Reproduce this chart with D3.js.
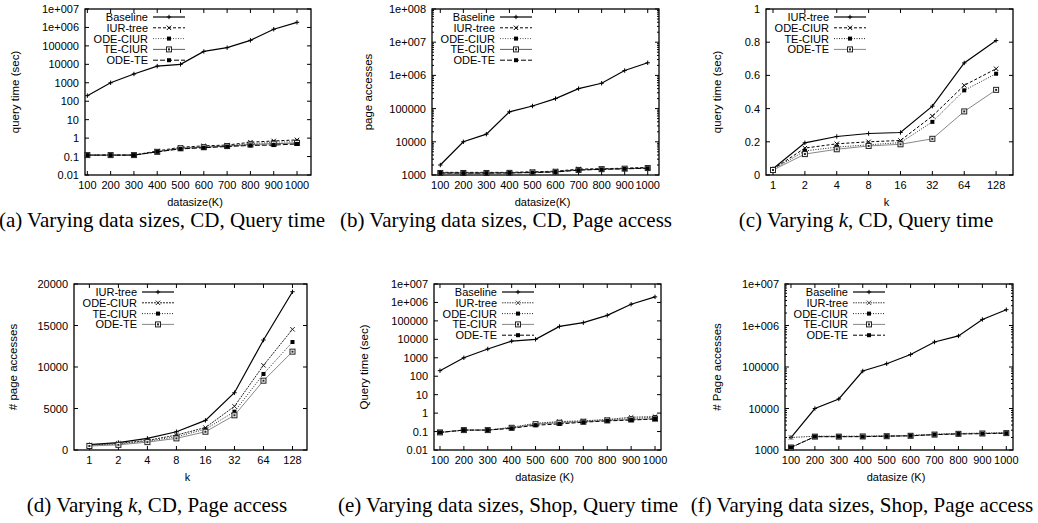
<!DOCTYPE html>
<html>
<head>
<meta charset="utf-8">
<script src="https://cdn.jsdelivr.net/npm/d3@7"></script>
<style>
  body { margin: 0; background: #fff; }
  svg text { font-family: "Liberation Sans", Arial, sans-serif; fill: #000; }
  svg text.caption { font-family: "Liberation Serif", "Times New Roman", serif; }
</style>
</head>
<body>
<script>
// x values
const dataSizes = [100, 200, 300, 400, 500, 600, 700, 800, 900, 1000];
const kValues = [1, 2, 4, 8, 16, 32, 64, 128];

const namesSize = ['Baseline', 'IUR-tree', 'ODE-CIUR', 'TE-CIUR', 'ODE-TE'];
const namesK = ['IUR-tree', 'ODE-CIUR', 'TE-CIUR', 'ODE-TE'];

// (a) data sizes, CD, query time
const aBaseline = [200, 1000, 3000, 8000, 10000, 50000, 80000, 200000, 800000, 1900000];
const aIUR = [0.12, 0.12, 0.12, 0.2, 0.32, 0.38, 0.42, 0.6, 0.7, 0.8];
const aODECIUR = [0.12, 0.12, 0.12, 0.19, 0.3, 0.35, 0.4, 0.5, 0.6, 0.65];
const aTECIUR = [0.12, 0.12, 0.12, 0.18, 0.28, 0.32, 0.37, 0.45, 0.5, 0.55];
const aODETE = [0.12, 0.12, 0.12, 0.18, 0.26, 0.3, 0.35, 0.4, 0.42, 0.48];

// (b) data sizes, CD, page access
const bBaseline = [2000, 10000, 17000, 80000, 120000, 200000, 400000, 580000, 1400000, 2400000];
const bIUR = [1200, 1200, 1200, 1200, 1250, 1300, 1500, 1550, 1600, 1700];
const bODECIUR = [1180, 1170, 1170, 1180, 1220, 1280, 1450, 1520, 1580, 1650];
const bTECIUR = [1150, 1150, 1150, 1160, 1200, 1250, 1420, 1500, 1550, 1620];
const bODETE = [1150, 1140, 1140, 1150, 1180, 1230, 1400, 1480, 1530, 1600];

// (c) k, CD, query time
const cIUR = [0.038, 0.194, 0.232, 0.25, 0.256, 0.415, 0.675, 0.81];
const cODECIUR = [0.035, 0.162, 0.188, 0.2, 0.208, 0.355, 0.54, 0.64];
const cTECIUR = [0.033, 0.145, 0.168, 0.182, 0.195, 0.32, 0.51, 0.61];
const cODETE = [0.03, 0.126, 0.155, 0.175, 0.185, 0.218, 0.383, 0.513];

// (d) k, CD, page access
const dIUR = [640, 900, 1400, 2200, 3570, 6900, 13250, 19070];
const dODECIUR = [600, 800, 1150, 1800, 2700, 5260, 10200, 14540];
const dTECIUR = [560, 700, 1050, 1600, 2500, 4620, 9160, 13010];
const dODETE = [480, 620, 950, 1400, 2200, 4180, 8350, 11850];

// (e) data sizes, Shop, query time
const eBaseline = [200, 1000, 3000, 8000, 10000, 50000, 80000, 200000, 800000, 2000000];
const eIUR = [0.09, 0.12, 0.12, 0.17, 0.28, 0.35, 0.38, 0.45, 0.6, 0.65];
const eODECIUR = [0.09, 0.12, 0.12, 0.16, 0.26, 0.32, 0.36, 0.43, 0.5, 0.6];
const eTECIUR = [0.09, 0.12, 0.12, 0.16, 0.25, 0.3, 0.34, 0.4, 0.45, 0.5];
const eODETE = [0.09, 0.12, 0.12, 0.15, 0.22, 0.26, 0.32, 0.38, 0.42, 0.48];

// (f) data sizes, Shop, page access
const fBaseline = [2000, 10000, 17000, 80000, 120000, 200000, 400000, 560000, 1400000, 2400000];
const fIUR = [2000, 2150, 2150, 2150, 2200, 2250, 2400, 2500, 2550, 2600];
const fODECIUR = [1150, 2100, 2100, 2100, 2150, 2200, 2350, 2450, 2500, 2550];
const fTECIUR = [1150, 2100, 2100, 2120, 2150, 2200, 2350, 2450, 2500, 2550];
const fODETE = [1150, 2100, 2100, 2100, 2150, 2200, 2340, 2440, 2480, 2540];

// tick values
const ticksTime = [0.01, 0.1, 1, 10, 100, 1000, 10000, 100000, 1e6, 1e7];
const ticksPage8 = [1000, 10000, 100000, 1e6, 1e7, 1e8];
const ticksPage7 = [1000, 10000, 100000, 1e6, 1e7];
const ticksTimeK = [0, 0.2, 0.4, 0.6, 0.8, 1];
const ticksPageK = [0, 5000, 10000, 15000, 20000];

/* line styles, gnuplot-ish */
const solidPlus = { dash: null, color: '#000', w: 1.2, m: 'plus' };
const stylesSize = [
    solidPlus,
    { dash: '3,2', color: '#000', w: 1, m: 'x' },
    { dash: '1,1.5', color: '#555', w: 1, m: 'sq' },
    { dash: null, color: '#333', w: 0.8, m: 'box' },
    { dash: '5,2', color: '#000', w: 1, m: 'sq' }
];
const stylesC = [
    solidPlus,
    { dash: '3,2', color: '#000', w: 1, m: 'x' },
    { dash: '1,1.5', color: '#222', w: 1, m: 'sq' },
    { dash: null, color: '#888', w: 1, m: 'box' }
];
const stylesD = [
    solidPlus,
    { dash: '2,1', color: '#222', w: 1, m: 'x' },
    { dash: '1,1.5', color: '#222', w: 1, m: 'sq' },
    { dash: null, color: '#888', w: 1, m: 'box' }
];
const stylesShop = [
    solidPlus,
    { dash: '1.5,1', color: '#444', w: 1, m: 'x' },
    { dash: '1,1.5', color: '#222', w: 1, m: 'sq' },
    { dash: null, color: '#888', w: 1, m: 'box' },
    { dash: '4,2', color: '#000', w: 1, m: 'sq' }
];

const panels = [
    { l: 85, r: 311, t: 9, b: 175, xs: dataSizes, xd: [90, 1060], log: true, yd: [0.01, 1e7], yt: ticksTime,
      names: namesSize, series: [aBaseline, aIUR, aODECIUR, aTECIUR, aODETE], st: stylesSize,
      ylab: 'query time (sec)', ylx: 15, xlab: 'datasize(K)', cap: ['(a) Varying data sizes, CD, Query time'], capx: 162 },
    { l: 432, r: 659, t: 9, b: 175, xs: dataSizes, xd: [64, 1049], log: true, yd: [1000, 1e8], yt: ticksPage8, minor: true,
      names: namesSize, series: [bBaseline, bIUR, bODECIUR, bTECIUR, bODETE], st: stylesSize,
      ylab: 'page accesses', ylx: 368, xlab: 'datasize(K)', cap: ['(b) Varying data sizes, CD, Page access'], capx: 506 },
    { l: 766, r: 1013, t: 9, b: 175, xs: kValues, k: true, xd: [-0.22, 7.53], log: false, yd: [0, 1], yt: ticksTimeK,
      names: namesK, series: [cIUR, cODECIUR, cTECIUR, cODETE], st: stylesC,
      ylab: 'query time (sec)', ylx: 717, xlab: 'k', cap: ['(c) Varying ', 'k', ', CD, Query time'], capx: 866 },
    { l: 74, r: 307, t: 284, b: 450, xs: kValues, k: true, xd: [-0.53, 7.5], log: false, yd: [0, 20000], yt: ticksPageK,
      names: namesK, series: [dIUR, dODECIUR, dTECIUR, dODETE], st: stylesD,
      ylab: '# page accesses', ylx: 13, xlab: 'k', cap: ['(d) Varying ', 'k', ', CD, Page access'], capx: 157 },
    { l: 434, r: 661, t: 284, b: 450, xs: dataSizes, xd: [75, 1025], log: true, yd: [0.01, 1e7], yt: ticksTime,
      names: namesSize, series: [eBaseline, eIUR, eODECIUR, eTECIUR, eODETE], st: stylesShop,
      ylab: 'Query time (sec)', ylx: 364, xlab: 'datasize (K)', cap: ['(e) Varying data sizes, Shop, Query time'], capx: 508 },
    { l: 785, r: 1013, t: 284, b: 450, xs: dataSizes, xd: [75, 1028], log: true, yd: [1000, 1e7], yt: ticksPage7, minor: true,
      names: namesSize, series: [fBaseline, fIUR, fODECIUR, fTECIUR, fODETE], st: stylesShop,
      ylab: '# Page accesses', ylx: 717, xlab: 'datasize (K)', cap: ['(f) Varying data sizes, Shop, Page access'], capx: 862 }
];

const svg = d3.select('body').append('svg')
    .attr('width', 1038)
    .attr('height', 523);

function fmtLog(v) {
    const e = Math.round(Math.log10(v));
    return e >= 6 ? '1e+' + d3.format('03d')(e) : String(v);
}

function drawMarker(g, type, x, y, color) {
    const s = 2.2;
    if (type === 'plus') {
        g.append('path').attr('d', `M${x - s},${y}H${x + s}M${x},${y - s}V${y + s}`)
            .attr('stroke', color).attr('stroke-width', 1);
    } else if (type === 'x') {
        g.append('path').attr('d', `M${x - s},${y - s}L${x + s},${y + s}M${x - s},${y + s}L${x + s},${y - s}`)
            .attr('stroke', color).attr('stroke-width', 1);
    } else if (type === 'sq') {
        g.append('rect').attr('x', x - 2).attr('y', y - 2).attr('width', 4).attr('height', 4).attr('fill', '#000');
    } else {
        g.append('rect').attr('x', x - 2.5).attr('y', y - 2.5).attr('width', 5).attr('height', 5)
            .attr('fill', '#fff').attr('stroke', '#222').attr('stroke-width', 1);
        g.append('rect').attr('x', x - 1).attr('y', y - 1).attr('width', 2).attr('height', 2).attr('fill', '#222');
    }
}

const fs = 11;

panels.forEach(function(p) {
    const g = svg.append('g');
    const x = d3.scaleLinear().domain(p.xd).range([p.l, p.r]);
    const y = (p.log ? d3.scaleLog() : d3.scaleLinear()).domain(p.yd).range([p.b, p.t]);
    const xPos = (v, i) => p.k ? x(i) : x(v);

    // frame
    g.append('rect')
        .attr('x', p.l).attr('y', p.t)
        .attr('width', p.r - p.l).attr('height', p.b - p.t)
        .attr('fill', 'none').attr('stroke', '#000').attr('stroke-width', 1.3);

    // y ticks (mirrored on the right)
    p.yt.forEach(function(v) {
        const yy = y(v);
        g.append('path').attr('d', `M${p.l},${yy}h4M${p.r},${yy}h-4`).attr('stroke', '#000');
        g.append('text').attr('x', p.l - 6).attr('y', yy + 4)
            .attr('text-anchor', 'end').attr('font-size', fs)
            .text(p.log ? fmtLog(v) : String(v));
    });
    if (p.minor) {
        for (let i = 0; i < p.yt.length - 1; i++) {
            for (let m = 2; m < 10; m++) {
                const yy = y(p.yt[i] * m);
                g.append('path').attr('d', `M${p.l},${yy}h2M${p.r},${yy}h-2`).attr('stroke', '#000');
            }
        }
    }

    // x ticks
    p.xs.forEach(function(v, i) {
        const xx = xPos(v, i);
        g.append('path').attr('d', `M${xx},${p.b}v-4M${xx},${p.t}v4`).attr('stroke', '#000');
        g.append('text').attr('x', xx).attr('y', p.b + 14)
            .attr('text-anchor', 'middle').attr('font-size', fs)
            .text(v);
    });

    // axis titles
    g.append('text').attr('x', (p.l + p.r) / 2 - 3).attr('y', p.b + 31)
        .attr('text-anchor', 'middle').attr('font-size', fs).text(p.xlab);
    const yc = (p.t + p.b) / 2;
    g.append('text')
        .attr('transform', `translate(${p.ylx + 4},${yc}) rotate(-90)`)
        .attr('text-anchor', 'middle').attr('font-size', 11.5).text(p.ylab);

    // series
    const line = d3.line()
        .x(d => xPos(d[0], d[2]))
        .y(d => y(d[1]));
    p.series.forEach(function(vals, si) {
        const st = p.st[si];
        const pts = vals.map((v, i) => [p.xs[i], v, i]);
        g.append('path').datum(pts)
            .attr('d', line)
            .attr('fill', 'none')
            .attr('stroke', st.color)
            .attr('stroke-width', st.w)
            .attr('stroke-dasharray', st.dash);
        pts.forEach(d => drawMarker(g, st.m, xPos(d[0], d[2]), y(d[1]), st.color));
    });

    // legend
    p.names.forEach(function(name, si) {
        const st = p.st[si];
        const ly = p.t + 8 + si * 10.8;
        g.append('text').attr('x', p.l + 63).attr('y', ly + 4)
            .attr('text-anchor', 'end').attr('font-size', fs).text(name);
        g.append('line')
            .attr('x1', p.l + 68).attr('x2', p.l + 100)
            .attr('y1', ly).attr('y2', ly)
            .attr('stroke', st.color).attr('stroke-width', st.w)
            .attr('stroke-dasharray', st.dash);
        drawMarker(g, st.m, p.l + 84, ly, st.color);
    });

    // caption
    const cap = g.append('text').attr('class', 'caption')
        .attr('x', p.capx).attr('y', p.t > 100 ? 512 : 227)
        .attr('text-anchor', 'middle').attr('font-size', 21);
    cap.append('tspan').text(p.cap[0]);
    if (p.cap.length > 1) {
        cap.append('tspan').attr('font-style', 'italic').text(p.cap[1]);
        cap.append('tspan').text(p.cap[2]);
    }
});
</script>
</body>
</html>
